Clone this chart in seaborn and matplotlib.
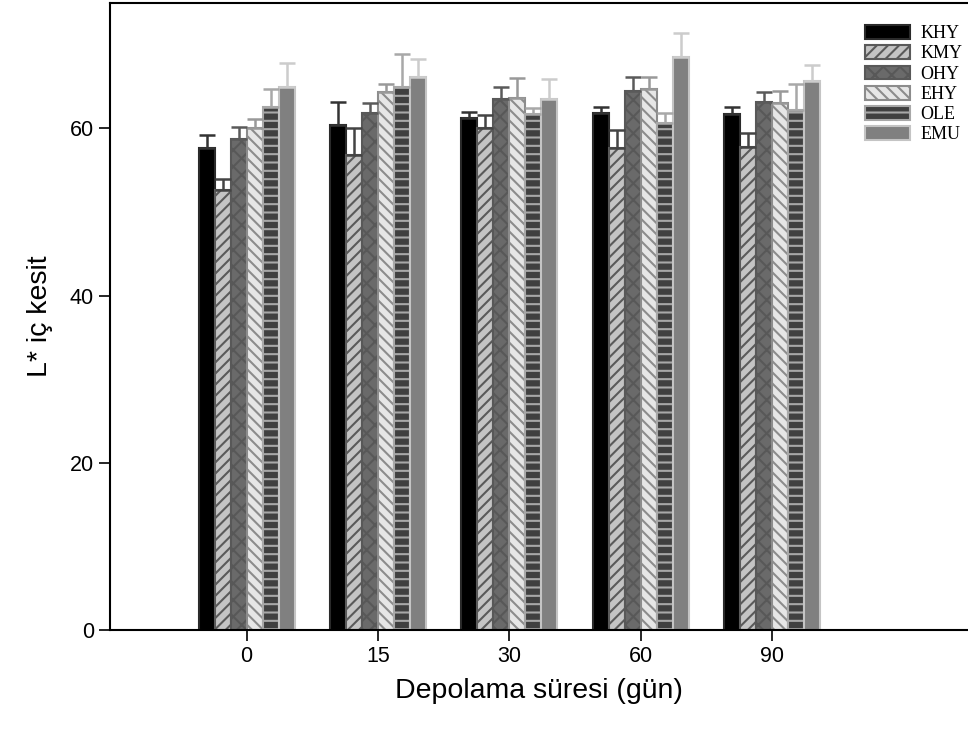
import numpy as np
import pandas as pd
import matplotlib
matplotlib.use("Agg")
import matplotlib.pyplot as plt
import seaborn as sns
from matplotlib.patches import Patch

days = ["0", "15", "30", "60", "90"]
groups = ["KHY", "KMY", "OHY", "EHY", "OLE", "EMU"]
KHY = [57.7, 60.4, 61.2, 61.8, 61.7]
KMY = [52.6, 56.8, 60.0, 57.6, 57.8]
OHY = [58.7, 61.8, 63.5, 64.5, 63.2]
EHY = [60.0, 64.4, 63.6, 64.7, 63.0]
OLE = [62.6, 64.9, 61.7, 60.6, 62.2]
EMU = [64.9, 66.1, 63.5, 68.5, 65.7]
KHY_err = [1.5, 2.8, 0.8, 0.8, 0.8]
KMY_err = [1.3, 3.2, 1.6, 2.2, 1.7]
OHY_err = [1.5, 1.2, 1.4, 1.6, 1.1]
EHY_err = [1.1, 0.9, 2.4, 1.4, 1.5]
OLE_err = [2.1, 4.0, 0.7, 1.3, 3.1]
EMU_err = [2.9, 2.2, 2.4, 2.9, 1.9]

vals = {"KHY": KHY, "KMY": KMY, "OHY": OHY, "EHY": EHY, "OLE": OLE, "EMU": EMU}
errs = {"KHY": KHY_err, "KMY": KMY_err, "OHY": OHY_err, "EHY": EHY_err, "OLE": OLE_err, "EMU": EMU_err}

rows = []
for g in groups:
    for d, v in zip(days, vals[g]):
        rows.append({"day": d, "grp": g, "val": v})
df = pd.DataFrame(rows)

styles = {
    "KHY": dict(fc="#000000", ec="#2a2a2a", hatch="", err="#333333"),
    "KMY": dict(fc="#c4c4c4", ec="#5a5a5a", hatch="///", err="#444444"),
    "OHY": dict(fc="#6a6a6a", ec="#585858", hatch="xx", err="#5a5a5a"),
    "EHY": dict(fc="#e6e6e6", ec="#8c8c8c", hatch="\\\\\\", err="#999999"),
    "OLE": dict(fc="#404040", ec="#a8a8a8", hatch="--", err="#a8a8a8"),
    "EMU": dict(fc="#808080", ec="#c4c4c4", hatch="", err="#cccccc"),
}

sns.set_style("white")
plt.rcParams["font.family"] = ["Liberation Sans", "DejaVu Sans"]
plt.rcParams["hatch.linewidth"] = 1.5
plt.rcParams["text.color"] = "black"
plt.rcParams["axes.labelcolor"] = "black"

fig = plt.figure(figsize=(9.68, 7.4), dpi=100)
ax = fig.add_axes([110/968, 110/740, 858/968, 627/740])

sns.barplot(data=df, x="day", y="val", hue="grp", order=days, hue_order=groups,
            width=0.73, ax=ax, legend=False, errorbar=None)

handles = []
for g, cont in zip(groups, ax.containers):
    s = styles[g]
    xs = []
    for p in cont.patches:
        p.set_facecolor(s["fc"])
        p.set_edgecolor(s["ec"])
        p.set_hatch(s["hatch"])
        p.set_linewidth(1.5)
        xs.append(p.get_x() + p.get_width() / 2)
    e = np.array(errs[g])
    ax.errorbar(xs, vals[g], yerr=[np.zeros_like(e), e], fmt="none",
                ecolor=s["err"], elinewidth=1.8, capsize=5.8, capthick=1.8, zorder=1)
    handles.append(Patch(facecolor=s["fc"], edgecolor=s["ec"], hatch=s["hatch"], linewidth=1.5, label=g))

ax.set_xlim(-1.04, 5.49)
ax.set_ylim(0, 75)
ax.set_yticks([0, 20, 40, 60])
ax.tick_params(axis="both", direction="out", length=8, width=1.2, labelsize=15.5,
               left=True, bottom=True, colors="black")
for sp in ["left", "bottom", "top"]:
    ax.spines[sp].set_color("black")
    ax.spines[sp].set_linewidth(1.5)
ax.spines["right"].set_visible(False)
ax.set_xlabel("Depolama süresi (gün)", fontsize=20.5, labelpad=8, color="black")
ax.set_ylabel("L* iç kesit", fontsize=20.5, labelpad=12, color="black")

leg = ax.legend(handles=handles, loc="upper left", frameon=False,
                prop={"family": "Liberation Serif", "size": 13},
                handlelength=2.5, handleheight=0.8, handletextpad=0.55, labelspacing=0.17,
                borderaxespad=0, borderpad=0)
leg.set_bbox_to_anchor((865/968, 1 - 25/740), transform=fig.transFigure)

fig.savefig("out.png", dpi=100)
